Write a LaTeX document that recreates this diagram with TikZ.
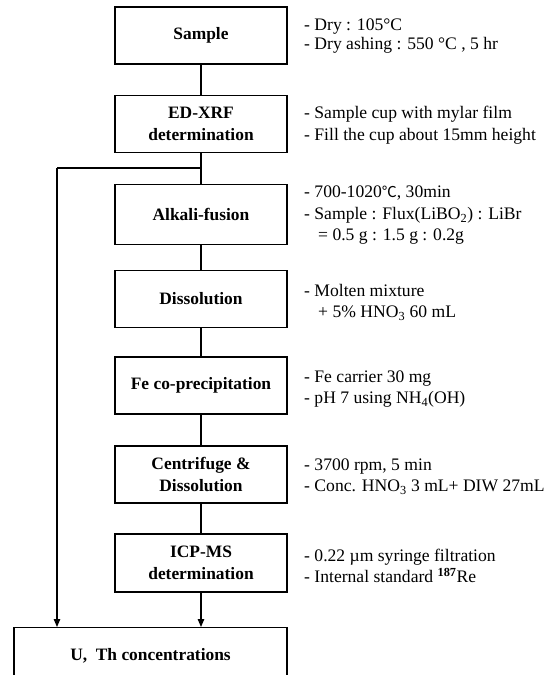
\documentclass[tikz,border=0pt]{standalone}
\usepackage{fontspec}
\setmainfont{Liberation Serif}
\newfontfamily\cjkfont{Noto Sans CJK SC}
\usetikzlibrary{arrows.meta}
\begin{document}
\begin{tikzpicture}[x=1pt,y=-1pt,
  box/.style={draw,line width=1.3pt,minimum width=172pt,minimum height=57pt,inner sep=0pt,align=center,font=\bfseries\fontsize{17.4}{21.5}\selectfont},
  note/.style={anchor=west,align=left,inner sep=0pt,font=\fontsize{17.6}{21.5}\selectfont},
  link/.style={line width=1.3pt},
  arr/.style={link,-{Triangle[length=8pt,width=6.5pt]}}]
\useasboundingbox (0,0) rectangle (548,675);
\clip (0,0) rectangle (548,675);
\fill[white] (0,0) rectangle (548,675);

\node[box] (s) at (201,35.5) {Sample};
\node[box] (x) at (201,124) {ED-XRF\\determination};
\node[box,minimum height=60pt] (a) at (201,214.5) {Alkali-fusion};
\node[box] (d) at (201,299) {Dissolution};
\node[box] (f) at (201,385.5) {Fe co-precipitation};
\node[box] (c) at (201,474.5) {Centrifuge \&\\Dissolution};
\node[box,minimum height=58pt] (i) at (201,563) {ICP-MS\\determination};
\node[box,anchor=north,minimum width=273pt,minimum height=57pt] (u) at (150.5,627) {U,\ \ Th concentrations};

\node[note,font=\fontsize{17.6}{18.5}\selectfont] (ns) at (304,36) {- Dry : 105°C\\- Dry ashing : 550 °C , 5 hr};
\node[note] (nx) at (304,125) {- Sample cup with mylar film\\- Fill the cup about 15mm height};
\node[note] (na) at (304,215.5) {- 700-1020{\cjkfont\fontsize{15}{20}\selectfont ℃}, 30min\\- Sample : Flux(LiBO\textsubscript{2}) : LiBr\\\hspace*{14pt}= 0.5 g : 1.5 g : 0.2g};
\node[note] (nd) at (304,302) {- Molten mixture\\\hspace*{14pt}+ 5\% HNO\textsubscript{3} 60 mL};
\node[note] (nf) at (304,389) {- Fe carrier 30 mg\\- pH 7 using NH\textsubscript{4}(OH)};
\node[note] (nc) at (304,476.5) {- 3700 rpm, 5 min\\- Conc. HNO\textsubscript{3} 3 mL+ DIW 27mL};
\node[note] (ni) at (304,566) {- 0.22 µm syringe filtration\\- Internal standard \textsuperscript{\bfseries 187}Re};

\coordinate (bl) at (57,168);
\draw[link] (s) -- (x);
\draw[link] (x) -- (a);
\draw[link] (x.south |- bl) -- (bl);
\draw[link] (a) -- (d);
\draw[link] (d) -- (f);
\draw[link] (f) -- (c);
\draw[link] (c) -- (i);
\draw[arr] (bl) -- (bl |- u.north);
\draw[arr] (i.south) -- (i.south |- u.north);
\end{tikzpicture}
\end{document}
